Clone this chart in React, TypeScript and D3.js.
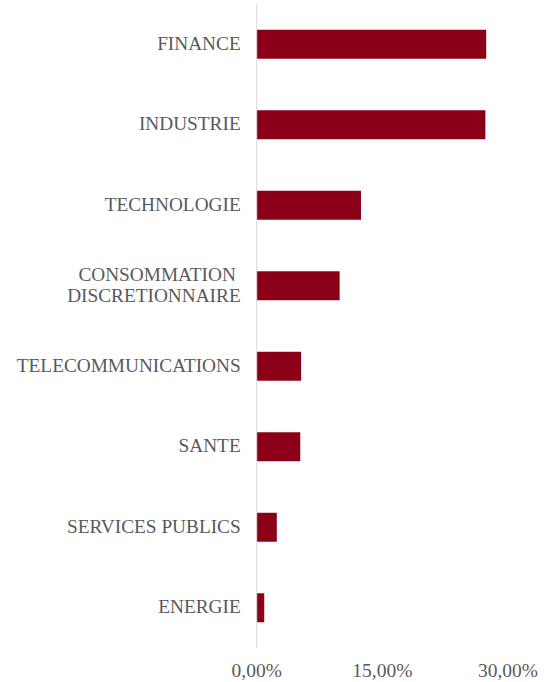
import React, { useEffect, useRef } from 'react';
import * as d3 from 'd3';

const categories = [
  'FINANCE',
  'INDUSTRIE',
  'TECHNOLOGIE',
  'CONSOMMATION DISCRETIONNAIRE',
  'TELECOMMUNICATIONS',
  'SANTE',
  'SERVICES PUBLICS',
  'ENERGIE',
];
const values = [27.4, 27.3, 12.45, 9.9, 5.3, 5.2, 2.4, 0.9];
const tickValues = [0, 15, 30];

// label lines (the long category is wrapped like the original)
const labelLines: Record<string, string[]> = {
  'CONSOMMATION DISCRETIONNAIRE': ['CONSOMMATION\u00a0', 'DISCRETIONNAIRE'],
};

const App: React.FC = () => {
  const svgRef = useRef<SVGSVGElement>(null);

  useEffect(() => {
    if (!svgRef.current) return;
    const svg = d3.select(svgRef.current);
    svg.selectAll('*').remove();

    const width = 556;
    const height = 682;
    const font = 'Liberation Serif, DejaVu Serif, serif';
    const x0 = 256.7;

    const x = d3.scaleLinear().domain([0, 30]).range([x0, 508]);
    const y = d3.scaleBand<string>().domain(categories).range([4, 648]).paddingInner(0.64).paddingOuter(0.32);

    svg.attr('width', width).attr('height', height);

    // bars
    svg.append('g')
      .selectAll('rect')
      .data(values)
      .enter()
      .append('rect')
      .attr('x', x(0))
      .attr('y', (_, i) => y(categories[i])!)
      .attr('width', d => x(d) - x(0))
      .attr('height', y.bandwidth())
      .attr('fill', '#8b0016');

    // vertical axis line
    svg.append('line')
      .attr('x1', x0).attr('x2', x0)
      .attr('y1', 4).attr('y2', 648)
      .attr('stroke', '#d9d9d9')
      .attr('stroke-width', 1);

    // category labels
    const labels = svg.append('g')
      .style('font-family', font)
      .attr('font-size', 19.3)
      .attr('fill', '#595959')
      .attr('text-anchor', 'end');

    categories.forEach(c => {
      const lines = labelLines[c] || [c];
      const cy = y(c)! + y.bandwidth() / 2;
      const lh = 20.5;
      const t = labels.append('text').attr('x', x0 - 16);
      lines.forEach((ln, j) => {
        t.append('tspan')
          .attr('x', x0 - 16)
          .attr('y', cy + (j - (lines.length - 1) / 2) * lh)
          .attr('dy', '0.29em')
          .text(ln);
      });
    });

    // tick labels
    svg.append('g')
      .style('font-family', font)
      .attr('font-size', 19.5)
      .attr('fill', '#595959')
      .attr('text-anchor', 'middle')
      .selectAll('text')
      .data(tickValues)
      .enter()
      .append('text')
      .attr('x', d => x(d))
      .attr('y', 677)
      .text(d => d3.format('.2f')(d).replace('.', ',') + '%');
  }, []);

  return (
    <div style={{ position: 'fixed', left: 0, top: 0, width: 556, height: 682, background: '#fff', overflow: 'hidden' }}>
      <svg ref={svgRef} style={{ display: 'block' }} />
    </div>
  );
};

export default App;
